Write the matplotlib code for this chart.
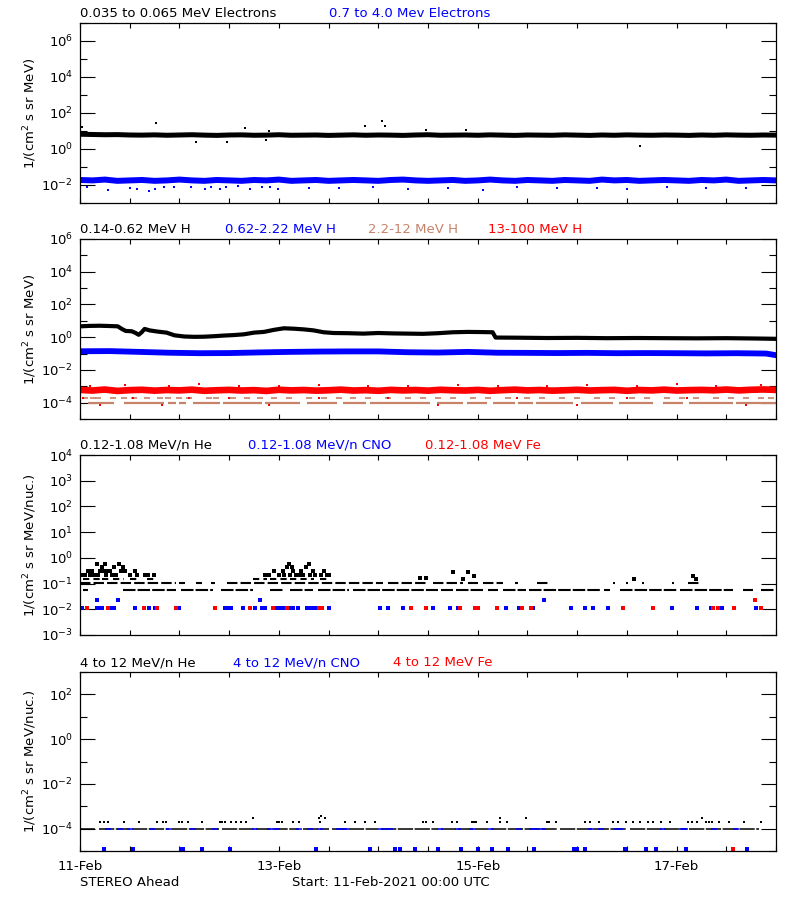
import numpy as np
import matplotlib
matplotlib.use('Agg')
import matplotlib.pyplot as plt
from matplotlib.ticker import NullFormatter, LogFormatterMathtext, FixedLocator

plt.rcParams['font.family'] = ['DejaVu Sans']
plt.rcParams['font.size'] = 9.5
plt.rcParams['mathtext.fontset'] = 'dejavusans'

BLUE = '#0000ff'
RED = '#ff0000'
SIENNA = '#c8826a'

# time axis = days after 11-Feb-2021 00:00 UTC
day_ticks = [0, 2, 4, 6]
day_labels = ['11-Feb', '13-Feb', '15-Feb', '17-Feb']

# ---------------- panel 1 : electrons (3-hourly values) ----------------
elec_low = [6.6, 6.4, 6.2, 6.3, 6.0, 5.9, 6.1, 5.8, 6.0, 6.2, 5.9, 5.7, 6.0, 6.1, 5.8,
            5.9, 6.2, 5.8, 5.9, 6.0, 5.7, 5.9, 6.1, 5.8, 6.0, 5.9, 5.7, 6.0, 6.2, 5.8,
            5.9, 6.0, 5.8, 6.1, 5.9, 5.7, 6.0, 5.9, 5.8, 6.1, 5.9, 5.7, 6.0, 5.8, 6.1,
            5.9, 5.8, 6.0, 5.9, 5.7, 6.0, 5.8, 6.1, 5.9, 5.8, 6.0, 5.9]
elec_low_out_t = [0.02, 0.76, 1.17, 1.48, 1.66, 1.87, 1.90, 2.87, 3.04, 3.07, 3.48, 3.88, 5.63]
elec_low_out_v = [16, 29, 2.6, 2.6, 14, 3.2, 10, 19, 36, 19, 11, 11, 1.5]

elec_high = [0.019, 0.018, 0.020, 0.017, 0.018, 0.019, 0.017, 0.018, 0.020, 0.018, 0.017,
             0.019, 0.018, 0.017, 0.019, 0.018, 0.020, 0.017, 0.018, 0.019, 0.017, 0.018,
             0.019, 0.018, 0.017, 0.019, 0.020, 0.018, 0.017, 0.018, 0.019, 0.017, 0.018,
             0.020, 0.018, 0.017, 0.019, 0.018, 0.017, 0.019, 0.018, 0.017, 0.020, 0.018,
             0.019, 0.017, 0.018, 0.019, 0.018, 0.017, 0.019, 0.018, 0.020, 0.017, 0.018,
             0.019, 0.018]
elec_high_out_t = [0.07, 0.28, 0.50, 0.57, 0.69, 0.75, 0.84, 0.95, 1.12, 1.26, 1.32, 1.41,
                   1.47, 1.59, 1.71, 1.83, 1.91, 1.99, 2.30, 2.60, 2.95, 3.30, 3.70, 4.05,
                   4.40, 4.80, 5.20, 5.50, 5.90, 6.30, 6.70]
elec_high_out_v = [0.0081, 0.0053, 0.0066, 0.0060, 0.0049, 0.0060, 0.0074, 0.0081, 0.0081,
                   0.0060, 0.0081, 0.0060, 0.0081, 0.0088, 0.0060, 0.0074, 0.0081, 0.0060,
                   0.0070, 0.0065, 0.0075, 0.0060, 0.0070, 0.0055, 0.0075, 0.0065, 0.0070,
                   0.0060, 0.0075, 0.0065, 0.0070]

# ---------------- panel 2 : protons ----------------
h1_t = [0.00, 0.10, 0.20, 0.30, 0.38, 0.42, 0.46, 0.52, 0.56, 0.59, 0.62, 0.65, 0.70, 0.78,
        0.87, 0.95, 1.05, 1.15, 1.25, 1.35, 1.45, 1.55, 1.65, 1.75, 1.85, 1.95, 2.05, 2.15,
        2.25, 2.35, 2.45, 2.55, 2.70, 2.85, 3.00, 3.15, 3.30, 3.45, 3.60, 3.75, 3.90, 4.05,
        4.15, 4.18, 4.40, 4.70, 5.00, 5.30, 5.60, 5.90, 6.20, 6.50, 6.80, 7.00]
h1_v = [4.6, 4.9, 5.0, 4.8, 4.6, 3.2, 2.4, 2.3, 1.8, 1.4, 2.0, 3.2, 2.6, 2.2,
        1.9, 1.3, 1.1, 1.05, 1.07, 1.15, 1.26, 1.35, 1.5, 1.9, 2.1, 2.8, 3.5, 3.3,
        3.0, 2.6, 2.0, 1.8, 1.75, 1.65, 1.8, 1.7, 1.65, 1.6, 1.75, 2.0, 2.1, 2.05,
        2.0, 0.95, 0.93, 0.89, 0.91, 0.87, 0.89, 0.87, 0.85, 0.87, 0.83, 0.79]

h2_t = [0.0, 0.3, 0.6, 0.9, 1.2, 1.5, 1.8, 2.1, 2.4, 2.7, 3.0, 3.3, 3.6, 3.9, 4.2, 4.5,
        4.8, 5.1, 5.4, 5.7, 6.0, 6.3, 6.6, 6.9, 7.0]
h2_v = [0.138, 0.141, 0.126, 0.112, 0.105, 0.107, 0.117, 0.126, 0.132, 0.135, 0.135, 0.120,
        0.115, 0.126, 0.112, 0.110, 0.107, 0.110, 0.105, 0.107, 0.105, 0.102, 0.105, 0.100,
        0.079]

# 2.2-12 MeV: counts sit at a floor level, drawn as stretches
h3_level = 9.1e-5
h3_start = [0.08, 0.44, 0.89, 1.00, 1.14, 1.44, 1.86, 2.01, 2.28, 2.65, 2.92, 3.22, 3.59,
            3.89, 4.15, 4.41, 4.59, 5.04, 5.42, 5.86, 6.13, 6.60]
h3_end = [0.34, 0.84, 0.97, 1.07, 1.41, 1.83, 2.01, 2.21, 2.58, 2.88, 3.22, 3.52, 3.85,
          4.09, 4.37, 4.56, 4.96, 5.36, 5.76, 6.06, 6.57, 7.00]
h3_dots_t = [0.05, 0.13, 0.18, 0.33, 0.44, 0.54, 0.67, 0.80, 0.89, 1.00, 1.10, 1.30, 1.37,
             1.54, 1.68, 1.81, 1.95, 2.10, 2.30, 2.45, 2.60, 2.75, 2.90, 3.10, 3.30, 3.45,
             3.60, 3.75, 3.95, 4.10, 4.30, 4.50, 4.65, 4.85, 5.00, 5.20, 5.35, 5.55, 5.70,
             5.90, 6.05, 6.20, 6.40, 6.55, 6.70, 6.85, 6.95]
h3_dots_level = 1.8e-4

h4_v = [6.0e-4, 5.5e-4, 6.3e-4, 5.2e-4, 5.8e-4, 6.1e-4, 5.4e-4, 5.9e-4, 5.6e-4, 6.2e-4,
        5.3e-4, 5.7e-4, 6.0e-4, 5.5e-4, 5.8e-4, 5.2e-4, 6.1e-4, 5.6e-4, 5.9e-4, 5.4e-4,
        5.7e-4, 6.2e-4, 5.5e-4, 5.8e-4, 5.3e-4, 6.0e-4, 5.6e-4, 5.9e-4, 5.4e-4, 6.1e-4,
        5.7e-4, 5.5e-4, 6.0e-4, 5.3e-4, 5.8e-4, 6.2e-4, 5.6e-4, 5.9e-4, 5.4e-4, 5.7e-4,
        6.1e-4, 5.5e-4, 5.8e-4, 6.0e-4, 5.3e-4, 5.9e-4, 5.6e-4, 6.2e-4, 5.5e-4, 5.8e-4,
        6.0e-4, 5.7e-4, 6.3e-4, 5.6e-4, 6.1e-4, 6.4e-4, 6.0e-4]
h4_up_t = [0.10, 0.45, 0.90, 1.20, 1.60, 2.00, 2.40, 2.90, 3.30, 3.80, 4.20, 4.70, 5.10,
           5.60, 6.00, 6.40, 6.85]
h4_up_v = [1.1e-3, 1.2e-3, 1.0e-3, 1.3e-3, 1.1e-3, 1.0e-3, 1.2e-3, 1.1e-3, 1.0e-3, 1.2e-3,
           1.1e-3, 1.0e-3, 1.2e-3, 1.0e-3, 1.3e-3, 1.1e-3, 1.2e-3]
h4_low_t = [0.03, 0.20, 0.53, 0.82, 1.10, 1.50, 1.90, 2.40, 3.10, 3.60, 4.40, 5.00, 5.50,
            6.10, 6.70]
h4_low_v = [2e-4, 7e-5, 2e-4, 7e-5, 2e-4, 2e-4, 7e-5, 2e-4, 2e-4, 7e-5, 2e-4, 7e-5, 2e-4,
            2e-4, 7e-5]

# ---------------- panel 3 : 0.12-1.08 MeV/n heavy ions ----------------
he3_floor = 0.054
he3_floor_start = [0.03, 0.43, 1.02, 1.42, 1.91, 2.11, 2.39, 2.75, 3.63, 3.78, 4.10, 4.25,
                   4.52, 5.27, 5.43, 6.03, 6.67, 6.85]
he3_floor_end = [0.08, 0.97, 1.34, 1.74, 2.04, 2.34, 2.71, 3.60, 3.75, 4.05, 4.20, 4.49,
                 5.23, 5.33, 6.00, 6.57, 6.77, 6.98]
he3_row2 = 0.104
he3_row2_start = [0.00, 1.00, 1.17, 1.32, 1.48, 3.10, 3.55, 3.90, 4.05, 4.38, 4.60, 5.36,
                  5.49, 5.65, 5.95, 6.11]
he3_row2_end = [0.97, 1.06, 1.23, 1.36, 3.05, 3.50, 3.85, 4.00, 4.25, 4.41, 4.72, 5.38,
                5.51, 5.67, 5.97, 6.23]
he3_row3 = 0.148
he3_row3_start = [0.03, 0.22, 0.33, 0.50, 0.67, 1.74, 1.91, 2.11, 2.41]
he3_row3_end = [0.20, 0.30, 0.44, 0.59, 0.77, 1.88, 2.08, 2.35, 2.51]
he3_dot_t = [0.02, 0.05, 0.08, 0.10, 0.12, 0.14, 0.17, 0.18, 0.20, 0.22, 0.24, 0.25, 0.26,
             0.28, 0.30, 0.32, 0.34, 0.36, 0.39, 0.41, 0.43, 0.45, 0.50, 0.55, 0.57, 0.65,
             0.68, 0.74,
             1.86, 1.90, 1.95, 2.00, 2.04, 2.05, 2.08, 2.10, 2.11, 2.13, 2.14, 2.17, 2.20,
             2.22, 2.24, 2.27, 2.30, 2.31, 2.34, 2.36, 2.42, 2.45, 2.48, 2.50,
             3.42, 3.48, 3.75, 3.85, 3.90, 3.96, 5.57, 6.17, 6.20]
he3_dot_v = [0.21, 0.21, 0.31, 0.21, 0.31, 0.21, 0.60, 0.21, 0.31, 0.45, 0.31, 0.60, 0.21,
             0.31, 0.31, 0.21, 0.45, 0.21, 0.60, 0.31, 0.45, 0.31, 0.21, 0.31, 0.21, 0.21,
             0.21, 0.21,
             0.21, 0.21, 0.31, 0.21, 0.31, 0.21, 0.45, 0.60, 0.21, 0.45, 0.31, 0.21, 0.21,
             0.31, 0.21, 0.45, 0.60, 0.21, 0.31, 0.21, 0.21, 0.31, 0.21, 0.21,
             0.17, 0.17, 0.27, 0.15, 0.27, 0.19, 0.15, 0.20, 0.15]

cno3_level = 0.0114
cno3_t = [0.02, 0.17, 0.20, 0.22, 0.30, 0.34, 0.55, 0.69, 0.75, 1.00, 1.46, 1.49, 1.52,
          1.64, 1.76, 1.83, 1.86, 1.98, 2.01, 2.04, 2.08, 2.11, 2.14, 2.19, 2.28, 2.31,
          2.35, 2.38, 2.50, 3.02, 3.10, 3.25, 3.48, 3.55, 3.72, 3.80, 3.99, 4.28, 4.42,
          4.56, 4.94, 5.08, 5.16, 5.31, 5.95, 6.21, 6.35, 6.46, 6.80, 6.85]
cno3_up_level = 0.024
cno3_up_t = [0.17, 0.38, 1.81, 4.67]
fe3_t = [0.07, 0.28, 0.64, 0.77, 0.97, 1.36, 1.71, 1.94, 2.08, 2.40, 2.43, 3.33, 3.48,
         3.82, 3.97, 4.00, 4.19, 4.45, 4.54, 5.46, 5.76, 6.37, 6.42, 6.58, 6.85]
fe3_up_t = [6.79]

# ---------------- panel 4 : 4-12 MeV/n heavy ions ----------------
he4_floor = 1.0e-4
he4_floor_start = [0.00, 0.19, 0.52, 0.93, 1.43, 2.24, 2.53, 3.03, 3.63, 4.13, 4.83, 5.53, 6.13]
he4_floor_end = [0.15, 0.50, 0.90, 1.40, 2.20, 2.50, 3.00, 3.60, 4.10, 4.80, 5.50, 6.10, 6.83]
he4_dot_level = 1.9e-4
he4_dot_t = [0.20, 0.24, 0.28, 0.44, 0.59, 0.77, 0.83, 0.86, 1.00, 1.03, 1.09, 1.23, 1.41,
             1.43, 1.46, 1.52, 1.57, 1.62, 1.67, 1.98, 2.00, 2.03, 2.14, 2.20, 2.41, 2.67,
             2.77, 2.87, 2.97, 3.45, 3.48, 3.55, 3.74, 3.79, 3.94, 3.96, 3.98, 4.09, 4.22,
             4.29, 4.70, 4.72, 4.79, 5.08, 5.13, 5.22, 5.36, 5.41, 5.49, 5.56, 5.63, 5.71,
             5.76, 5.84, 5.93, 6.11, 6.16, 6.21, 6.30, 6.33, 6.36, 6.43, 6.53, 6.68, 6.85]
he4_up_t = [1.74, 2.40, 2.42, 2.46, 4.22, 4.49, 6.26]
he4_up_v = [2.9e-4, 2.9e-4, 3.8e-4, 2.9e-4, 2.9e-4, 2.9e-4, 2.9e-4]
cno4_on_floor_t = [0.28, 0.40, 0.50, 0.72, 0.90, 1.14, 1.36, 1.76, 1.91, 1.98, 2.20, 2.31,
                   2.41, 2.60, 2.64, 2.68, 3.03, 3.08, 3.12, 3.62, 3.80, 3.94, 4.13, 4.42,
                   4.55, 4.60, 4.66, 5.14, 5.24, 5.40, 5.43, 5.86, 6.05, 6.08, 6.38, 6.60]
cno4_low_level = 1.2e-5
cno4_low_t = [0.24, 0.53, 1.02, 1.04, 1.23, 1.51, 2.37, 2.92, 3.17, 3.22, 3.37, 3.60, 3.83,
              4.00, 4.14, 4.30, 4.57, 4.97, 5.00, 5.08, 5.48, 5.69, 5.79, 6.09, 6.71]
fe4_low_t = [6.57]

# ---------------- layout ----------------
fig = plt.figure(figsize=(8, 9), dpi=100)
fig.patch.set_facecolor('white')

boxes = [(23, 203), (239, 419), (455, 635), (672, 851)]   # pixel top / bottom
axes = [fig.add_axes([80 / 800, 1 - b / 900, 696 / 800, (b - t) / 900]) for t, b in boxes]


def setup(ax, ylim, major, minor, ylabel, titles, bottom=False):
    ax.set_xlim(0, 7)
    ax.set_yscale('log')
    ax.set_ylim(*ylim)
    ax.yaxis.set_major_locator(FixedLocator(major))
    ax.yaxis.set_minor_locator(FixedLocator(minor))
    ax.yaxis.set_major_formatter(LogFormatterMathtext())
    ax.yaxis.set_minor_formatter(NullFormatter())
    ax.xaxis.set_major_locator(FixedLocator(day_ticks))
    ax.xaxis.set_minor_locator(FixedLocator(np.arange(0, 7.01, 0.5)))
    if bottom:
        ax.set_xticklabels(day_labels)
    else:
        ax.xaxis.set_major_formatter(NullFormatter())
    ax.tick_params(axis='y', which='major', direction='in', length=10.8, width=0.8,
                   right=True, pad=5)
    ax.tick_params(axis='y', which='minor', direction='in', length=4.8, width=0.8, right=True)
    ax.tick_params(axis='x', which='both', direction='in', length=3.6, width=0.8,
                   top=True, pad=6.5)
    for s in ax.spines.values():
        s.set_linewidth(0.9)
    ax.set_ylabel(ylabel)
    ax.yaxis.set_label_coords(-41 / 696, 0.5)
    h = ax.get_position().height * 900
    for txt, col, px in titles:
        ax.text((px - 80) / 696, 1 + 6 / h, txt, color=col, transform=ax.transAxes,
                va='baseline', ha='left')


lab1 = '1/(cm$^2$ s sr MeV)'
lab2 = '1/(cm$^2$ s sr MeV/nuc.)'

# panel 1
ax = axes[0]
t = np.linspace(0, 7, len(elec_low))
ax.plot(t, elec_low, color='k', lw=3.6)
ax.plot(elec_low_out_t, elec_low_out_v, 's', color='k', ms=2, mew=0)
t = np.linspace(0, 7, len(elec_high))
ax.plot(t, elec_high, color=BLUE, lw=4.3)
ax.plot(elec_high_out_t, elec_high_out_v, 's', color=BLUE, ms=2, mew=0)
setup(ax, (1e-3, 1e7), [1e-2, 1e0, 1e2, 1e4, 1e6], [1e-3, 1e-1, 1e1, 1e3, 1e5, 1e7], lab1,
      [('0.035 to 0.065 MeV Electrons', 'k', 80), ('0.7 to 4.0 Mev Electrons', BLUE, 329)])

# panel 2
ax = axes[1]
ax.hlines([h3_level] * len(h3_start), h3_start, h3_end, color=SIENNA, lw=1.6)
ax.plot(h3_dots_t, [h3_dots_level] * len(h3_dots_t), '_', color=SIENNA, ms=4, mew=1.2)
t = np.linspace(0, 7, len(h4_v))
ax.plot(t, h4_v, color=RED, lw=4.8)
ax.plot(h4_up_t, h4_up_v, 's', color=RED, ms=2, mew=0)
ax.plot(h4_low_t, h4_low_v, 's', color=RED, ms=2, mew=0)
ax.plot(h2_t, h2_v, color=BLUE, lw=4.2)
ax.plot(h1_t, h1_v, color='k', lw=3.0)
setup(ax, (1e-5, 1e6), [1e-4, 1e-2, 1e0, 1e2, 1e4, 1e6], [1e-5, 1e-3, 1e-1, 1e1, 1e3, 1e5],
      lab1,
      [('0.14-0.62 MeV H', 'k', 80), ('0.62-2.22 MeV H', BLUE, 225),
       ('2.2-12 MeV H', SIENNA, 368), ('13-100 MeV H', RED, 488)])

# panel 3
ax = axes[2]
ax.hlines([he3_floor] * len(he3_floor_start), he3_floor_start, he3_floor_end, color='k',
          lw=1.5, linestyles=(0, (6, 1)))
ax.hlines([he3_row2] * len(he3_row2_start), he3_row2_start, he3_row2_end, color='k',
          lw=1.5, linestyles=(0, (5, 1.5)))
ax.hlines([he3_row3] * len(he3_row3_start), he3_row3_start, he3_row3_end, color='k',
          lw=1.5, linestyles=(0, (3, 2)))
ax.plot(he3_dot_t, he3_dot_v, 's', color='k', ms=2.2, mew=0)
ax.plot(cno3_t, [cno3_level] * len(cno3_t), 's', color=BLUE, ms=2.2, mew=0)
ax.plot(cno3_up_t, [cno3_up_level] * len(cno3_up_t), 's', color=BLUE, ms=2.2, mew=0)
ax.plot(fe3_t, [cno3_level] * len(fe3_t), 's', color=RED, ms=2.2, mew=0)
ax.plot(fe3_up_t, [cno3_up_level] * len(fe3_up_t), 's', color=RED, ms=2.2, mew=0)
setup(ax, (1e-3, 1e4), [1e-3, 1e-2, 1e-1, 1e0, 1e1, 1e2, 1e3, 1e4], [], lab2,
      [('0.12-1.08 MeV/n He', 'k', 80), ('0.12-1.08 MeV/n CNO', BLUE, 248),
       ('0.12-1.08 MeV Fe', RED, 425)])

# panel 4
ax = axes[3]
ax.hlines([he4_floor] * len(he4_floor_start), he4_floor_start, he4_floor_end, color='k',
          lw=1.1, linestyles=(0, (10, 1)))
ax.plot(cno4_on_floor_t, [he4_floor] * len(cno4_on_floor_t), '_', color=BLUE, ms=4, mew=1.1)
ax.plot(he4_dot_t, [he4_dot_level] * len(he4_dot_t), 's', color='k', ms=2, mew=0)
ax.plot(he4_up_t, he4_up_v, 's', color='k', ms=2, mew=0)
ax.plot(cno4_low_t, [cno4_low_level] * len(cno4_low_t), 's', color=BLUE, ms=2.2, mew=0)
ax.plot(fe4_low_t, [cno4_low_level] * len(fe4_low_t), 's', color=RED, ms=2.2, mew=0)
setup(ax, (1e-5, 1e3), [1e-4, 1e-2, 1e0, 1e2], [1e-5, 1e-3, 1e-1, 1e1, 1e3], lab2,
      [('4 to 12 MeV/n He', 'k', 80), ('4 to 12 MeV/n CNO', BLUE, 233),
       ('4 to 12 MeV Fe', RED, 393)], bottom=True)

fig.text(80 / 800, 1 - 886 / 900, 'STEREO Ahead', va='baseline', ha='left')
fig.text(292 / 800, 1 - 886 / 900, 'Start: 11-Feb-2021 00:00 UTC', va='baseline', ha='left')

fig.savefig('out.png', dpi=100, facecolor='white')
